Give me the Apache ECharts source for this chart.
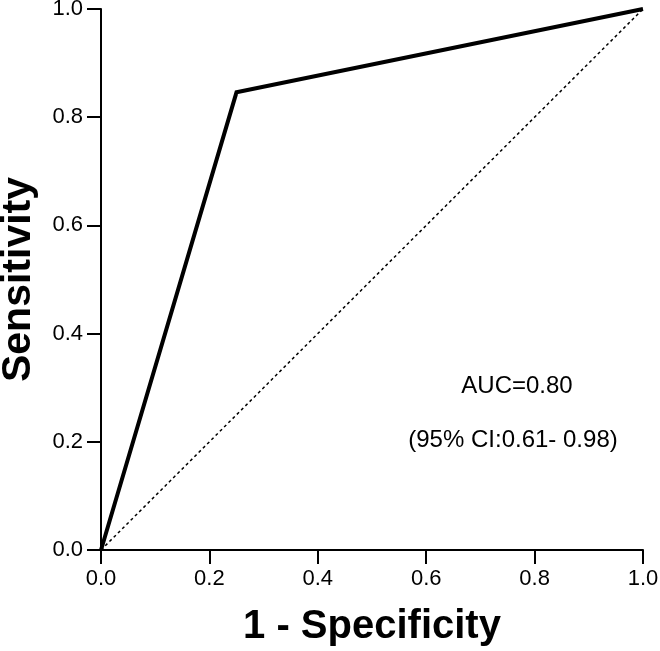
<!DOCTYPE html>
<html>
<head>
<meta charset="utf-8">
<script src="https://cdn.jsdelivr.net/npm/echarts@6/dist/echarts.min.js"></script>
<style>html,body{margin:0;padding:0;background:#fff;}#c{width:660px;height:651px;}</style>
</head>
<body>
<div id="c"></div>
<script>
var rocX = [0, 0.25, 1];
var rocY = [0, 0.846, 1];
var refX = [0, 1];
var refY = [0, 1];
var tickLabels = ['0.0', '0.2', '0.4', '0.6', '0.8', '1.0'];
var aucText = 'AUC=0.80';
var ciText = '(95% CI:0.61- 0.98)';

var FONT = '"Liberation Sans", Arial, sans-serif';
var chart = echarts.init(document.getElementById('c'));
function pairs(xs, ys) { return xs.map(function (x, i) { return [x, ys[i]]; }); }
var axisCommon = {
  type: 'value', min: 0, max: 1, interval: 0.2,
  axisLine: { show: true, lineStyle: { color: '#000', width: 2 } },
  axisTick: { show: true, length: 14, lineStyle: { color: '#000', width: 2 } },
  splitLine: { show: false },
  axisLabel: { color: '#000', fontSize: 22, fontFamily: FONT, margin: 18,
    formatter: function (v) { return tickLabels[Math.round(v * 5)]; } },
  nameTextStyle: { color: '#000', fontSize: 40, fontWeight: 'bold', fontFamily: FONT },
  nameLocation: 'middle'
};
chart.setOption({
  animation: false,
  backgroundColor: '#fff',
  grid: { left: 101, right: 17, top: 9, bottom: 101, containLabel: false, outerBoundsMode: 'none' },
  xAxis: Object.assign({}, axisCommon, { name: '1 - Specificity', nameGap: 57 }),
  yAxis: Object.assign({}, axisCommon, { name: 'Sensitivity', nameGap: 62,
    nameTextStyle: { color: '#000', fontSize: 41, fontWeight: 'bold', fontFamily: FONT } }),
  series: [
    { type: 'line', data: pairs(refX, refY), symbol: 'none',
      lineStyle: { color: '#000', width: 1.5, type: [3, 3] } },
    { type: 'line', data: pairs(rocX, rocY), symbol: 'none',
      lineStyle: { color: '#000', width: 4, join: 'miter' } }
  ],
  graphic: [
    { type: 'text', x: 517, y: 386, style: { text: aucText, fill: '#000', font: '24px ' + FONT, align: 'center', verticalAlign: 'middle' } },
    { type: 'text', x: 513, y: 440, style: { text: ciText, fill: '#000', font: '24px ' + FONT, align: 'center', verticalAlign: 'middle' } }
  ]
});
</script>
</body>
</html>
